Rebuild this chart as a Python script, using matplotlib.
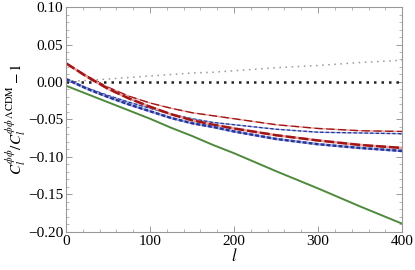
import numpy as np
import matplotlib
matplotlib.use("Agg")
import matplotlib.pyplot as plt
from matplotlib.ticker import MultipleLocator

# --- data ---
ell = [0, 25, 50, 75, 100, 125, 150, 175, 200, 250, 300, 350, 400]
red_thin = [0.025, 0.008, -0.007, -0.019, -0.028, -0.035, -0.041, -0.045, -0.049, -0.057, -0.062, -0.065, -0.066]
red_thick = [0.025, 0.007, -0.009, -0.022, -0.033, -0.043, -0.051, -0.057, -0.062, -0.071, -0.078, -0.084, -0.088]
blue_thin = [0.004, -0.008, -0.018, -0.027, -0.035, -0.043, -0.049, -0.054, -0.057, -0.063, -0.067, -0.068, -0.069]
blue_thick = [0.004, -0.009, -0.020, -0.030, -0.039, -0.048, -0.055, -0.060, -0.066, -0.076, -0.083, -0.088, -0.092]
green = [-0.005, -0.016, -0.027, -0.038, -0.049, -0.061, -0.072, -0.084, -0.095, -0.119, -0.142, -0.166, -0.189]
gray_dot = [0.001, 0.002, 0.004, 0.006, 0.008, 0.010, 0.012, 0.013, 0.015, 0.019, 0.022, 0.026, 0.029]
zero_line = [0.0] * len(ell)

plt.rcParams['font.family'] = ['Liberation Serif', 'DejaVu Serif']
plt.rcParams['mathtext.fontset'] = 'stix'

fig = plt.figure(figsize=(4.15, 2.70), dpi=100)
ax = fig.add_axes([0.159, 0.141, 0.810, 0.833])

DARK_RED, PINK = '#a31515', '#e2a4a4'
DARK_BLUE, LIGHT_BLUE = '#26359c', '#a0abd9'

ax.plot(ell, gray_dot, color='#999999', lw=1.1, ls=(0, (1, 3)))
ax.plot(ell, zero_line, color='#222222', lw=1.8, ls=(0, (1, 2)))
ax.plot(ell, green, color='#4f8a3c', lw=1.4)

# each pair: light dashes sitting in the gaps of the dark ones
ax.plot(ell, red_thin, color=PINK, lw=1.0, ls=(6, (6, 2.5)))
ax.plot(ell, red_thin, color=DARK_RED, lw=1.0, ls=(0, (6, 2.5)))
ax.plot(ell, blue_thin, color=LIGHT_BLUE, lw=1.0, ls=(2.5, (2.5, 1.5)))
ax.plot(ell, blue_thin, color=DARK_BLUE, lw=1.0, ls=(0, (2.5, 1.5)))
ax.plot(ell, red_thick, color=PINK, lw=1.8, ls=(4, (4, 1.2)))
ax.plot(ell, red_thick, color=DARK_RED, lw=1.8, ls=(0, (4, 1.2)))
ax.plot(ell, blue_thick, color=LIGHT_BLUE, lw=1.8, ls=(1.6, (1.6, 0.8)))
ax.plot(ell, blue_thick, color=DARK_BLUE, lw=1.8, ls=(0, (1.6, 0.8)))

ax.set_xlim(0, 400)
ax.set_ylim(-0.20, 0.10)
ax.xaxis.set_major_locator(MultipleLocator(100))
ax.xaxis.set_minor_locator(MultipleLocator(20))
ax.yaxis.set_major_locator(MultipleLocator(0.05))
ax.yaxis.set_minor_locator(MultipleLocator(0.01))
ax.set_yticks([0.10, 0.05, 0.00, -0.05, -0.10, -0.15, -0.20])
ax.set_yticklabels(['0.10', '0.05', '0.00', '\u22120.05', '\u22120.10', '\u22120.15', '\u22120.20'])

for s in ax.spines.values():
    s.set_color('#999999')
    s.set_linewidth(0.8)
ax.tick_params(which='both', direction='in', top=True, right=True, color='#999999',
               labelsize=11, pad=2)
ax.tick_params(which='major', length=4, width=0.7)
ax.tick_params(which='minor', length=2, width=0.5)

ax.set_xlabel(r'$l$', fontsize=12, labelpad=0)
ax.set_ylabel(r'$C_l^{\phi\phi}/C_l^{\phi\phi\,\Lambda\mathrm{CDM}}-1$', fontsize=11, labelpad=0)

fig.savefig('out.png', dpi=100)
